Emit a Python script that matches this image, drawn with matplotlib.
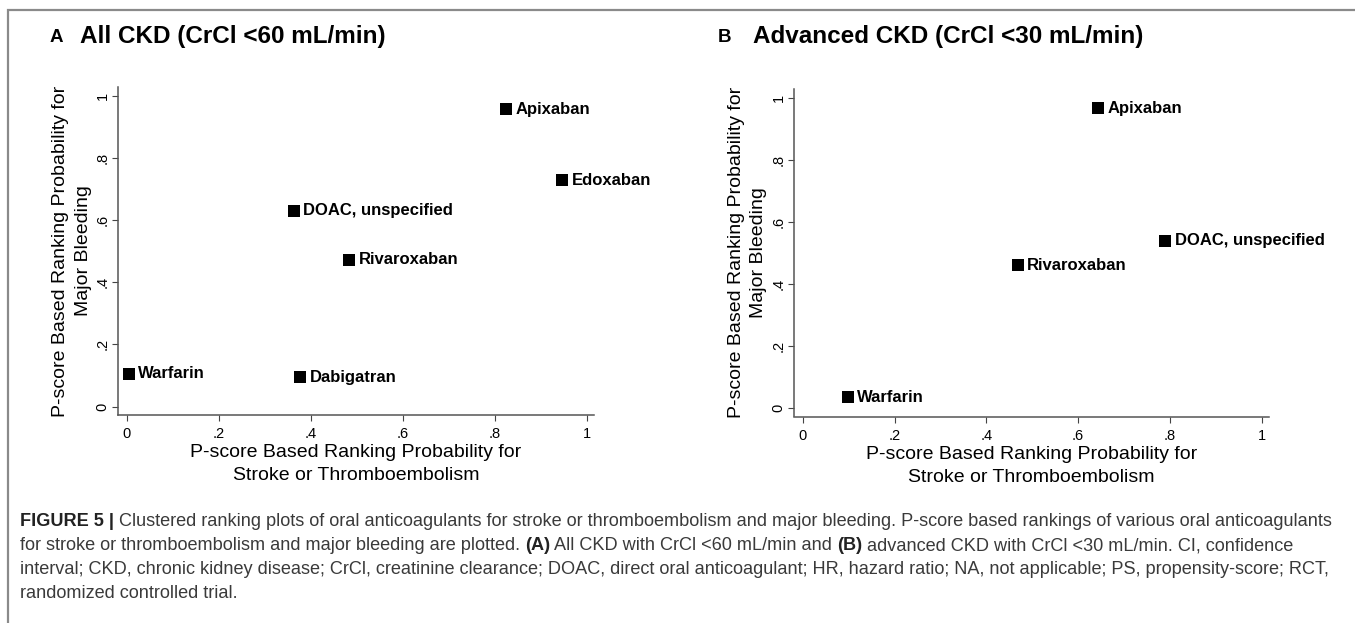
import matplotlib
matplotlib.use("Agg")
import matplotlib.pyplot as plt
from matplotlib.patches import Rectangle

plt.rcParams['font.family'] = ['Liberation Sans', 'DejaVu Sans']

# panel A: all CKD (CrCl <60 mL/min)
drugs_a = ['Apixaban', 'Edoxaban', 'DOAC, unspecified', 'Rivaroxaban', 'Warfarin', 'Dabigatran']
stroke_a = [0.825, 0.946, 0.363, 0.484, 0.004, 0.376]
bleed_a = [0.957, 0.728, 0.630, 0.473, 0.106, 0.095]

# panel B: advanced CKD (CrCl <30 mL/min)
drugs_b = ['Apixaban', 'DOAC, unspecified', 'Rivaroxaban', 'Warfarin']
stroke_b = [0.643, 0.789, 0.468, 0.098]
bleed_b = [0.966, 0.539, 0.461, 0.035]

ticks = [0, 0.2, 0.4, 0.6, 0.8, 1]
tick_labels = ['0', '.2', '.4', '.6', '.8', '1']

xlabel = 'P-score Based Ranking Probability for\nStroke or Thromboembolism'
ylabel = 'P-score Based Ranking Probability for\nMajor Bleeding'

caption = [
    [('FIGURE 5 | ', True),
     ('Clustered ranking plots of oral anticoagulants for stroke or thromboembolism and major bleeding. '
      'P-score based rankings of various oral anticoagulants', False)],
    [('for stroke or thromboembolism and major bleeding are plotted. ', False), ('(A)', True),
     (' All CKD with CrCl <60 mL/min and ', False), ('(B)', True),
     (' advanced CKD with CrCl <30 mL/min. CI, confidence', False)],
    [('interval; CKD, chronic kidney disease; CrCl, creatinine clearance; DOAC, direct oral anticoagulant; '
      'HR, hazard ratio; NA, not applicable; PS, propensity-score; RCT,', False)],
    [('randomized controlled trial.', False)],
]

W, H = 1355, 623
fig = plt.figure(figsize=(W / 100, H / 100), dpi=100)

# frame (only top and left edges are visible in the crop)
fig.patches.append(Rectangle((8 / W, -0.1), 1.2, (H - 10) / H + 0.1, transform=fig.transFigure,
                             fill=False, edgecolor='#8a8a8a', linewidth=1.6))


def panel(rect, letter, title, letter_x, title_x, xs, ys, names):
    ax = fig.add_axes([rect[0] / W, 1 - rect[3] / H, (rect[1] - rect[0]) / W, (rect[3] - rect[2]) / H])
    ax.scatter(xs, ys, marker='s', s=75, color='black', linewidths=0)
    for x, y, n in zip(xs, ys, names):
        ax.annotate(n, (x, y), xytext=(7, 0), textcoords='offset points', va='center',
                    ha='left', fontsize=12, fontweight='bold')
    ax.set_xlim(-0.019, 1.016)
    ax.set_ylim(-0.027, 1.028)
    ax.set_xticks(ticks, tick_labels)
    ax.set_yticks(ticks, tick_labels)
    ax.tick_params(labelsize=10.5, length=4, width=0.8, color='#444444')
    ax.tick_params(axis='x', pad=5)
    ax.tick_params(axis='y', pad=2)
    for lab in ax.get_yticklabels():
        lab.set_rotation(90)
        lab.set_va('center')
    for s in ['top', 'right']:
        ax.spines[s].set_visible(False)
    for s in ['left', 'bottom']:
        ax.spines[s].set_color('#555555')
        ax.spines[s].set_linewidth(1.1)
    ax.set_xlabel(xlabel, fontsize=14, labelpad=2, linespacing=1.45)
    ax.set_ylabel(ylabel, fontsize=14, labelpad=3, linespacing=1.4)
    fig.text(letter_x / W, 1 - 37 / H, letter, fontsize=13.5, fontweight='bold', va='center')
    fig.text(title_x / W, 1 - 37 / H, title, fontsize=17.5, fontweight='bold', va='center')
    return ax


panel((118, 594, 87, 415), 'A', 'All CKD (CrCl <60 mL/min)', 50, 80, stroke_a, bleed_a, drugs_a)
panel((794, 1269, 89, 416.5), 'B', 'Advanced CKD (CrCl <30 mL/min)', 718, 753, stroke_b, bleed_b, drugs_b)

# caption, drawn piece by piece so bold parts sit inline
renderer = fig.canvas.get_renderer()
cap_fonts = ['Liberation Sans Narrow', 'Liberation Sans', 'DejaVu Sans']


def line_width(parts, size):
    total = 0
    for txt, bold in parts:
        t = fig.text(0, 0, txt, fontsize=size, family=cap_fonts, fontweight='bold' if bold else 'normal')
        total += t.get_window_extent(renderer).width
        t.remove()
    return total


base = 10
size = base * 1317 / line_width(caption[0], base)
line_y = [521, 546, 570, 594]
for parts, yy in zip(caption, line_y):
    x = 20
    for txt, bold in parts:
        t = fig.text(x / W, 1 - yy / H, txt, fontsize=size, family=cap_fonts, va='center',
                     fontweight='bold' if bold else 'normal', color='#222222' if bold else '#3a3a3a')
        x += t.get_window_extent(renderer).width

fig.savefig('out.png', dpi=100)
